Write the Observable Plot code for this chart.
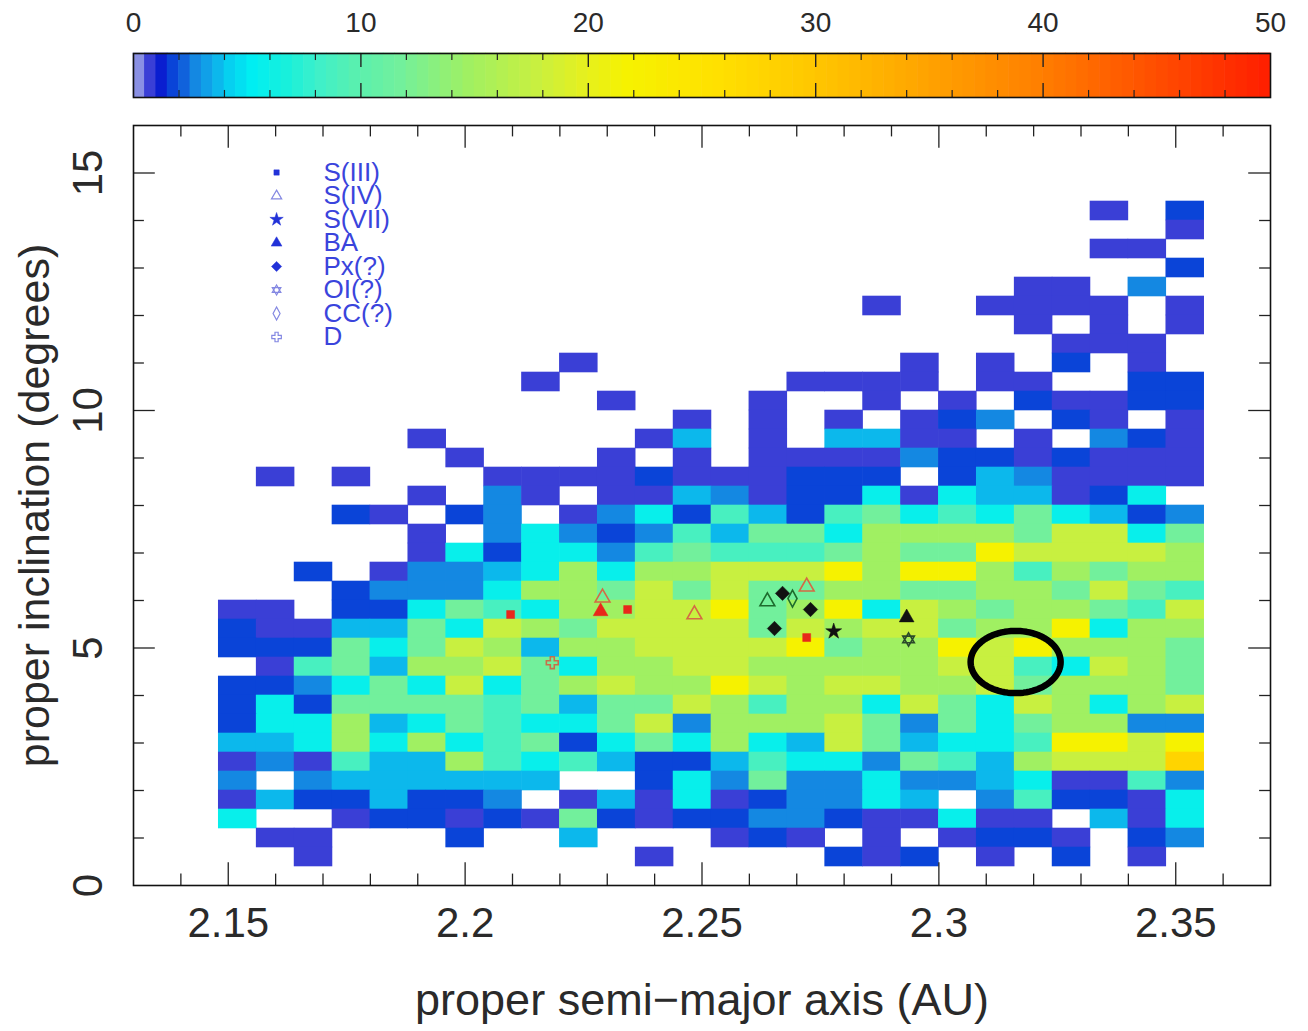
<!DOCTYPE html>
<html>
<head>
<meta charset="utf-8">
<script src="https://cdn.jsdelivr.net/npm/d3@7"></script>
<script src="https://cdn.jsdelivr.net/npm/@observablehq/plot@0.6"></script>
<style>
  body { margin: 0; background: #fff; }
  #chart { width: 1308px; }
  #chart svg { display: block; }
</style>
</head>
<body>
<div id="chart"></div>
<script>
// ---------- data ----------
// bins: proper semi-major axis a (AU) and proper inclination i (deg)
const binA0 = 2.148, binDA = 0.008;
const binI0 = 0.4, binDI = 0.4;

// counts per cell, rows from top (i = 14.0–14.4) to bottom (i = 0.4–0.8), columns a = 2.148 … 2.356
const counts = [
  [0,0,0,0,0,0,0,0,0,0,0,0,0,0,0,0,0,0,0,0,0,0,0,1,0,2],
  [0,0,0,0,0,0,0,0,0,0,0,0,0,0,0,0,0,0,0,0,0,0,0,0,0,1],
  [0,0,0,0,0,0,0,0,0,0,0,0,0,0,0,0,0,0,0,0,0,0,0,1,1,0],
  [0,0,0,0,0,0,0,0,0,0,0,0,0,0,0,0,0,0,0,0,0,0,0,0,0,2],
  [0,0,0,0,0,0,0,0,0,0,0,0,0,0,0,0,0,0,0,0,0,1,1,0,3,0],
  [0,0,0,0,0,0,0,0,0,0,0,0,0,0,0,0,0,1,0,0,1,1,1,1,0,1],
  [0,0,0,0,0,0,0,0,0,0,0,0,0,0,0,0,0,0,0,0,0,1,0,1,0,1],
  [0,0,0,0,0,0,0,0,0,0,0,0,0,0,0,0,0,0,0,0,0,0,1,1,1,0],
  [0,0,0,0,0,0,0,0,0,1,0,0,0,0,0,0,0,0,1,0,1,0,2,0,1,0],
  [0,0,0,0,0,0,0,0,1,0,0,0,0,0,0,1,1,1,1,0,1,1,0,0,2,2],
  [0,0,0,0,0,0,0,0,0,0,1,0,0,0,1,0,0,1,0,1,0,2,1,1,2,2],
  [0,0,0,0,0,0,0,0,0,0,0,0,1,0,1,0,1,0,1,2,3,0,2,1,0,1],
  [0,0,0,0,0,1,0,0,0,0,0,1,4,0,1,0,4,4,1,1,0,1,0,3,2,1],
  [0,0,0,0,0,0,1,0,0,0,1,0,1,0,1,1,1,1,3,2,2,1,2,1,1,1],
  [0,1,0,1,0,0,0,1,1,1,1,2,1,1,1,2,2,2,0,2,4,3,1,1,1,1],
  [0,0,0,0,0,1,0,3,1,0,1,1,4,3,1,2,2,6,1,6,4,4,1,2,6,0],
  [0,0,0,2,1,0,2,3,0,1,3,6,2,9,4,2,9,12,6,9,6,12,6,4,2,3],
  [0,0,0,0,0,1,0,3,6,3,2,3,9,4,12,12,6,15,15,15,15,12,18,18,6,12],
  [0,0,0,0,0,1,6,2,6,6,3,9,12,9,9,9,12,15,12,12,22,18,18,18,18,15],
  [0,0,2,0,1,3,3,4,6,15,6,15,15,18,18,18,22,15,22,22,15,9,15,12,15,15],
  [0,0,0,2,3,3,3,6,15,15,12,18,12,18,12,12,15,15,12,12,15,15,12,18,12,9],
  [1,1,0,2,2,6,12,9,6,15,15,18,18,22,12,15,22,6,18,15,12,15,15,12,9,18],
  [2,1,1,4,4,12,6,18,15,12,18,18,18,18,12,18,15,18,18,12,15,15,22,6,15,15],
  [2,2,2,12,6,12,18,15,4,15,15,18,18,18,18,22,12,15,15,22,18,22,15,15,15,12],
  [0,1,9,12,4,15,15,18,12,6,15,15,18,18,15,15,15,15,15,18,18,9,6,18,15,12],
  [2,2,3,6,12,6,18,6,12,15,18,15,15,22,18,15,18,18,15,15,18,12,15,15,15,12],
  [2,6,2,12,12,12,12,9,12,4,12,12,18,15,9,15,15,6,18,12,6,18,15,6,15,18],
  [2,6,6,15,4,6,12,9,6,6,12,18,3,15,15,15,18,12,3,12,6,12,15,15,3,3],
  [4,4,6,15,6,15,6,9,12,2,6,12,6,15,6,4,18,12,4,6,6,9,22,22,18,22],
  [1,3,1,9,4,4,15,9,6,9,4,2,2,4,9,6,6,3,12,9,4,15,18,18,18,28],
  [3,0,3,4,4,4,4,4,4,0,0,2,6,3,12,3,3,6,3,3,4,6,1,1,9,3],
  [1,4,2,2,4,2,2,3,0,1,4,1,6,1,2,3,3,6,4,0,3,9,2,2,1,6],
  [6,0,0,1,2,2,1,2,1,12,2,1,2,2,3,3,2,1,1,6,1,1,0,4,1,6],
  [0,1,1,0,0,0,2,0,0,4,0,0,0,1,2,1,0,1,0,1,2,2,1,0,2,3],
  [0,0,1,0,0,0,0,0,0,0,0,1,0,0,0,0,2,1,2,0,1,0,2,0,1,0]
];

// colour bar
const colorDomain = [0, 0.5, 1, 1.5, 2, 2.5, 3, 3.5, 4, 4.5, 5.5, 7, 8.5, 10, 12, 15, 18, 20, 22, 26, 30, 35, 40, 45, 50];
const colorRange = ["#8a90e4","#8a90e4","#3a3fd6","#0a1ed0","#0a44d8","#1062dc","#1488e2","#10a0e8","#0cb8ec","#06d0f0",
                    "#00eef2","#18f0dc","#40f0c8","#58f0b0","#72f09c","#a0f062","#c8f040","#e4f020","#f6f200","#ffe000",
                    "#ffc800","#ffa400","#ff8000","#ff5000","#ff2000"];
const colorbarLabels = [0, 10, 20, 30, 40, 50];

// asteroids with taxonomic types
const markerType  = ["S(III)","S(III)","S(III)","S(IV)","S(IV)","S(IV)","S(IV)","S(VII)","BA","BA","Px(?)","Px(?)","Px(?)","OI(?)","CC(?)","D"];
const markerA     = [2.2096, 2.2343, 2.2721, 2.2290, 2.2484, 2.2721, 2.2638, 2.2778, 2.2286, 2.2932, 2.2670, 2.2729, 2.2653, 2.2936, 2.2691, 2.2184];
const markerI     = [5.705, 5.81, 5.22, 6.06, 5.705, 6.29, 5.98, 5.35, 5.77, 5.64, 6.15, 5.81, 5.41, 5.18, 6.04, 4.69];
const markerColor = ["#e8281a","#e8281a","#e8281a","#d46a44","#d46a44","#d46a44","#1d6b2d","#111111","#e8281a","#111111","#111111","#111111","#111111","#2a4a2a","#1d6b2d","#c8704a"];

// legend
const legendLabels = ["S(III)","S(IV)","S(VII)","BA","Px(?)","OI(?)","CC(?)","D"];

// highlighted region (ellipse)
const ellipseCenterA = 2.3162, ellipseCenterI = 4.705, ellipseRadA = 0.0095, ellipseRadI = 0.655;

// axis ticks
const xMajor = [2.15, 2.2, 2.25, 2.3, 2.35];
const yMajor = [0, 5, 10, 15];

// ---------- symbols ----------
const hexagram = {draw(ctx, size) {
  const r = Math.sqrt(size / Math.PI) * 1.15;
  for (const off of [-Math.PI / 2, Math.PI / 2]) {
    for (let k = 0; k < 3; k++) {
      const t = off + k * 2 * Math.PI / 3;
      const x = r * Math.cos(t), y = r * Math.sin(t);
      if (k) ctx.lineTo(x, y); else ctx.moveTo(x, y);
    }
    ctx.closePath();
  }
}};
const narrowDiamond = {draw(ctx, size) {
  const r = Math.sqrt(size / Math.PI);
  ctx.moveTo(0, -1.3 * r); ctx.lineTo(0.7 * r, 0); ctx.lineTo(0, 1.3 * r); ctx.lineTo(-0.7 * r, 0); ctx.closePath();
}};
const typeStyle = {
  "S(III)": {symbol: "square", filled: true, r: 4.5, lr: 3},
  "S(IV)":  {symbol: "triangle", filled: false, r: 5.5, lr: 3.8},
  "S(VII)": {symbol: "star", filled: true, r: 5, lr: 4.2},
  "BA":     {symbol: "triangle", filled: true, r: 5.5, lr: 4},
  "Px(?)":  {symbol: "diamond2", filled: true, r: 6.5, lr: 4.6},
  "OI(?)":  {symbol: hexagram, filled: false, r: 5.8, lr: 4.3},
  "CC(?)":  {symbol: narrowDiamond, filled: false, r: 6.5, lr: 5},
  "D":      {symbol: "cross", filled: false, r: 5, lr: 4}
};

// ---------- derived tables ----------
const nRows = counts.length;
const cells = counts.flatMap((row, r) => row.map((n, c) => ({
  a1: binA0 + c * binDA, a2: binA0 + (c + 1) * binDA,
  i1: binI0 + (nRows - 1 - r) * binDI, i2: binI0 + (nRows - r) * binDI, n
}))).filter(d => d.n > 0);

const markers = markerType.map((t, k) => ({type: t, a: markerA[k], i: markerI[k], color: markerColor[k]}));
const legendRows = legendLabels.map((label, k) => ({label, i: (885 - (172 + 23.5 * k)) / 47.5}));
const ellipsePts = d3.range(0, 361, 4).map(t => ({
  a: ellipseCenterA + ellipseRadA * Math.cos(t * Math.PI / 180),
  i: ellipseCenterI + ellipseRadI * Math.sin(t * Math.PI / 180)
}));

const colorOpts = {type: "linear", domain: colorDomain, range: colorRange, interpolate: "rgb", clamp: true};
const font = "'Liberation Sans', Arial, Helvetica, sans-serif";
const ink = "#2a2a2a";

// ---------- colour bar ----------
const cbSteps = d3.range(0, 50, 0.5);
const cbMinor = d3.range(2, 50, 2).filter(v => v % 10 !== 0);
const cbMajor = [10, 20, 30, 40];
const colorbar = Plot.plot({
  width: 1308, height: 110,
  marginLeft: 133, marginRight: 38, marginTop: 53, marginBottom: 13,
  x: {domain: [0, 50], axis: null},
  y: {domain: [0, 1], axis: null},
  color: colorOpts,
  style: {fontFamily: font, background: "white", overflow: "visible"},
  marks: [
    Plot.rect(cbSteps, {x1: d => d, x2: d => d + 0.5, y1: 0, y2: 1, fill: d => d + 0.5, inset: -0.3}),
    Plot.ruleX(cbMinor, {x: d => d, y1: 1, y2: 0.84, stroke: "#222", strokeWidth: 1.2}),
    Plot.ruleX(cbMinor, {x: d => d, y1: 0, y2: 0.16, stroke: "#222", strokeWidth: 1.2}),
    Plot.ruleX(cbMajor, {x: d => d, y1: 1, y2: 0.68, stroke: "#222", strokeWidth: 1.4}),
    Plot.ruleX(cbMajor, {x: d => d, y1: 0, y2: 0.32, stroke: "#222", strokeWidth: 1.4}),
    Plot.frame({stroke: "#111", strokeWidth: 1.6}),
    Plot.text(colorbarLabels, {x: d => d, y: 1, dy: -30, text: d => String(d), fontSize: 28, fill: ink})
  ]
});

// ---------- main chart ----------
const xAll = d3.range(214, 237).map(d => d / 100);
const xMinor = xAll.filter(d => Math.round(d * 100) % 5 !== 0);
const yMinor = d3.range(1, 16).filter(d => d % 5 !== 0);
const tickStyle = {stroke: "#222", strokeWidth: 1.3};

const markerMarks = markers.map(m => {
  const s = typeStyle[m.type];
  return Plot.dot([m], {x: "a", y: "i", symbol: s.symbol, r: s.r,
    fill: s.filled ? m.color : "none", stroke: m.color, strokeWidth: s.filled ? 0.5 : 1.6});
});
const legendMarks = legendRows.map(d => {
  const s = typeStyle[d.label];
  const col = s.filled ? "#2232d8" : "#8488e2";
  return Plot.dot([d], {x: () => 2.1602, y: "i", symbol: s.symbol, r: s.lr,
    fill: s.filled ? col : "none", stroke: col, strokeWidth: s.filled ? 0.5 : 1.2});
});

const main = Plot.plot({
  width: 1308, height: 921,
  marginLeft: 133, marginRight: 38, marginTop: 15, marginBottom: 146,
  x: {domain: [2.13, 2.37], axis: null},
  y: {domain: [0, 16], axis: null},
  color: colorOpts,
  style: {fontFamily: font, background: "white", overflow: "visible"},
  marks: [
    Plot.rect(cells, {x1: "a1", x2: "a2", y1: "i1", y2: "i2", fill: "n", inset: -0.3}),
    ...legendMarks,
    Plot.text(legendRows, {x: () => 2.1701, y: "i", text: "label", textAnchor: "start", fontSize: 26, fill: "#3a44dc"}),
    ...markerMarks,
    Plot.line(ellipsePts, {x: "a", y: "i", stroke: "#000", strokeWidth: 6.5}),
    // inward ticks
    Plot.ruleX(xMinor, {x: d => d, y1: 0, y2: 0.24, ...tickStyle}),
    Plot.ruleX(xMinor, {x: d => d, y1: 16, y2: 15.76, ...tickStyle}),
    Plot.ruleX(xMajor, {x: d => d, y1: 0, y2: 0.48, ...tickStyle}),
    Plot.ruleX(xMajor, {x: d => d, y1: 16, y2: 15.52, ...tickStyle}),
    Plot.ruleY(yMinor, {y: d => d, x1: 2.13, x2: 2.1323, ...tickStyle}),
    Plot.ruleY(yMinor, {y: d => d, x1: 2.37, x2: 2.3677, ...tickStyle}),
    Plot.ruleY([5, 10, 15], {y: d => d, x1: 2.13, x2: 2.1346, ...tickStyle}),
    Plot.ruleY([5, 10, 15], {y: d => d, x1: 2.37, x2: 2.3654, ...tickStyle}),
    Plot.frame({stroke: "#111", strokeWidth: 1.6}),
    // tick labels
    Plot.text(xMajor, {x: d => d, y: 0, dy: 38, text: d => String(d), fontSize: 42, fill: ink}),
    Plot.text(yMajor, {x: 2.13, y: d => d, dx: -45, rotate: -90, text: d => String(d), fontSize: 42, fill: ink}),
    // axis titles
    Plot.text(["proper semi\u2212major axis (AU)"], {frameAnchor: "bottom", textAnchor: "middle", lineAnchor: "middle", dy: 115, text: d => d, fontSize: 45, fill: ink}),
    Plot.text(["proper inclination (degrees)"], {frameAnchor: "left", textAnchor: "middle", lineAnchor: "middle", dx: -98, rotate: -90, text: d => d, fontSize: 43, fill: ink})
  ]
});

const host = document.getElementById("chart");
host.appendChild(colorbar);
host.appendChild(main);
</script>
</body>
</html>
